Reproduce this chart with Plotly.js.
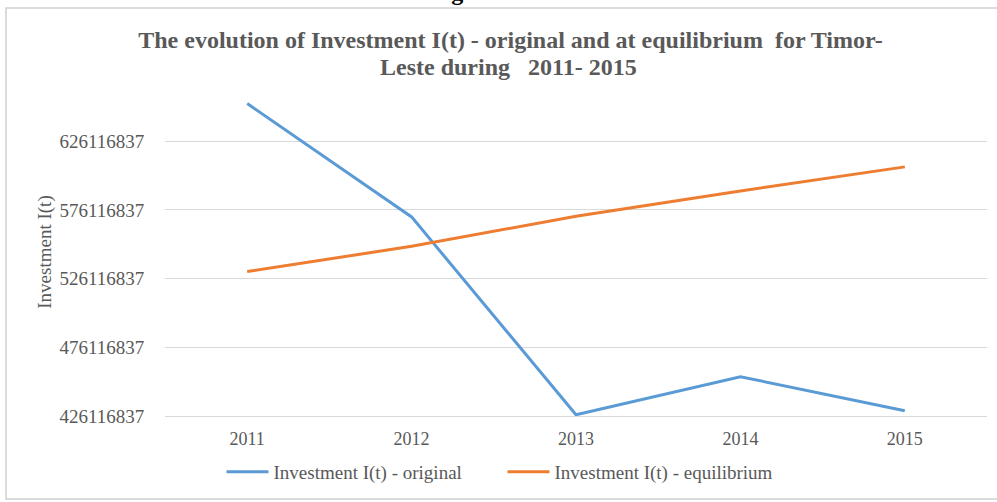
<!DOCTYPE html>
<html>
<head>
<meta charset="utf-8">
<script src="https://cdn.plot.ly/plotly-3.0.1.min.js"></script>
<style>
html,body{margin:0;padding:0;background:#fff;}
#chart{width:997px;height:502px;}
</style>
</head>
<body>
<div id="chart"></div>
<script>
const years = ['2011', '2012', '2013', '2014', '2015'];
const investmentOriginal = [653500000, 571000000, 427000000, 454700000, 430000000];
const investmentEquilibrium = [531200000, 549600000, 571500000, 589900000, 607400000];
const yTickValues = [426116837, 476116837, 526116837, 576116837, 626116837];
const yTickLabels = ['426116837', '476116837', '526116837', '576116837', '626116837'];

const W = 997, H = 502;
const M = {l: 165, r: 10, t: 88, b: 86};
const pw = W - M.l - M.r, ph = H - M.t - M.b;
const px = v => (v - M.l) / pw;
const py = v => (H - M.b - v) / ph;

const font = 'Liberation Serif, Times New Roman, serif';
const grey = '#595959';

const traces = [
  {x: years, y: investmentOriginal, type: 'scatter', mode: 'lines',
   name: 'Investment I(t) - original', line: {color: '#5B9BD5', width: 3}},
  {x: years, y: investmentEquilibrium, type: 'scatter', mode: 'lines',
   name: 'Investment I(t) - equilibrium', line: {color: '#ED7D31', width: 3}}
];

const layout = {
  width: W, height: H,
  margin: M,
  paper_bgcolor: '#fff', plot_bgcolor: '#fff',
  font: {family: font, color: grey, size: 19},
  title: {
    text: '<b>The evolution of Investment I(t) - original and at equilibrium  for Timor-</b>',
    font: {family: font, size: 24, color: grey},
    x: 0.512, xref: 'container', xanchor: 'center',
    y: 1 - 40 / H, yref: 'container', yanchor: 'middle'
  },
  xaxis: {
    type: 'category', range: [-0.5, 4.5],
    showgrid: false, zeroline: false,
    showline: true, linecolor: '#d9d9d9', linewidth: 1,
    ticks: 'outside', ticklen: 6, tickcolor: 'rgba(0,0,0,0)',
    tickfont: {family: font, size: 18, color: grey}
  },
  yaxis: {
    range: [426116837, 664800000],
    tickvals: yTickValues, ticktext: yTickLabels,
    showgrid: true, gridcolor: '#d9d9d9', gridwidth: 1,
    zeroline: false, showline: false,
    ticks: 'outside', ticklen: 16, tickcolor: 'rgba(0,0,0,0)',
    tickfont: {family: font, size: 19, color: grey},
    title: {text: 'Investment I(t)', font: {family: font, size: 19, color: grey}, standoff: 2}
  },
  legend: {
    orientation: 'h', x: 0.504, xref: 'container', xanchor: 'center',
    y: 1 - 472 / H, yref: 'container', yanchor: 'middle',
    font: {family: font, size: 19, color: grey},
    itemwidth: 42, tracegroupgap: 0,
    entrywidth: 224, entrywidthmode: 'pixels'
  },
  shapes: [
    {type: 'rect', xref: 'paper', yref: 'paper',
     x0: px(6), x1: px(1003), y0: py(499), y1: py(8),
     line: {color: '#d0d0d0', width: 1.5}, fillcolor: 'rgba(0,0,0,0)', layer: 'below'}
  ],
  annotations: [
    {text: '<b>Leste during   2011- 2015</b>', xref: 'paper', yref: 'paper',
     x: px(508), y: py(67), xanchor: 'center', yanchor: 'middle',
     showarrow: false, font: {family: font, size: 24, color: grey}},
    {text: '<b>Figure 3.13.5</b>', xref: 'paper', yref: 'paper',
     x: px(497), y: py(7), xanchor: 'center', yanchor: 'bottom',
     showarrow: false, font: {family: font, size: 24, color: '#000'}}
  ]
};

Plotly.newPlot('chart', traces, layout, {displayModeBar: false, staticPlot: true});
</script>
</body>
</html>
